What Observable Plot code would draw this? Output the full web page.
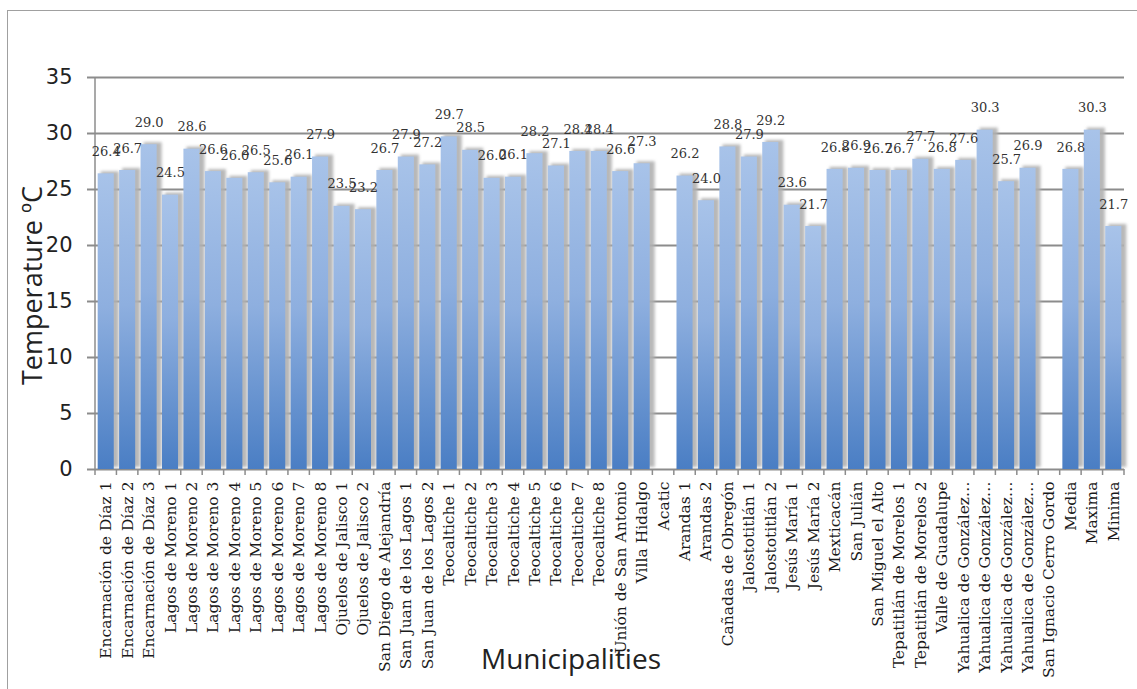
<!DOCTYPE html>
<html><head><meta charset="utf-8">
<script src="https://cdn.jsdelivr.net/npm/d3@7"></script>
<script src="https://cdn.jsdelivr.net/npm/@observablehq/plot@0.6"></script>
<style>
body{margin:0;background:#fff;overflow:hidden;}
#frame{position:absolute;left:7px;top:10px;width:1140px;height:690px;border-left:1px solid #a0a0a0;border-top:1px solid #a0a0a0;}
</style></head><body><div id="frame"></div>
<script>
const categories = [
  "Encarnación de Díaz 1","Encarnación de Díaz 2","Encarnación de Díaz 3",
  "Lagos de Moreno 1","Lagos de Moreno 2","Lagos de Moreno 3","Lagos de Moreno 4",
  "Lagos de Moreno 5","Lagos de Moreno 6","Lagos de Moreno 7","Lagos de Moreno 8",
  "Ojuelos de Jalisco 1","Ojuelos de Jalisco 2","San Diego de Alejandría",
  "San Juan de los Lagos 1","San Juan de los Lagos 2",
  "Teocaltiche 1","Teocaltiche 2","Teocaltiche 3","Teocaltiche 4",
  "Teocaltiche 5","Teocaltiche 6","Teocaltiche 7","Teocaltiche 8",
  "Unión de San Antonio","Villa Hidalgo","Acatic","Arandas 1","Arandas 2",
  "Cañadas de Obregón","Jalostotitlán 1","Jalostotitlán 2","Jesús María 1","Jesús María 2",
  "Mexticacán","San Julián","San Miguel el Alto","Tepatitlán de Morelos 1","Tepatitlán de Morelos 2",
  "Valle de Guadalupe","Yahualica de González…","Yahualica de González…","Yahualica de González…","Yahualica de González…",
  "San Ignacio Cerro Gordo","Media","Maxima","Minima"
];
const temperatures = [
  26.4, 26.7, 29.0,
  24.5, 28.6, 26.6, 26.0,
  26.5, 25.6, 26.1, 27.9,
  23.5, 23.2, 26.7,
  27.9, 27.2,
  29.7, 28.5, 26.0, 26.1,
  28.2, 27.1, 28.4, 28.4,
  26.6, 27.3, null, 26.2, 24.0,
  28.8, 27.9, 29.2, 23.6, 21.7,
  26.8, 26.9, 26.7, 26.7, 27.7,
  26.8, 27.6, 30.3, 25.7, 26.9,
  null, 26.8, 30.3, 21.7
];
const yTicks = [0, 5, 10, 15, 20, 25, 30, 35];
const yLabel = "Temperature ºC";
const xLabel = "Municipalities";

const data = categories.map((c, i) => ({i, c, t: temperatures[i]}));
const bars = data.filter(d => d.t != null);
const fmt = d3.format(".1f");

const W = 1129, H = 678;
const defs = () => {
  const g = d3.create("svg:g");
  const d = g.append("defs");
  const grad = d.append("linearGradient")
    .attr("id", "barGrad").attr("x1", 0).attr("y1", 0).attr("x2", 0).attr("y2", 1);
  grad.append("stop").attr("offset", "0%").attr("stop-color", "#a8c3e9");
  grad.append("stop").attr("offset", "45%").attr("stop-color", "#8eafdf");
  grad.append("stop").attr("offset", "100%").attr("stop-color", "#4a7ec4");
  const f = d.append("filter").attr("id", "shadowBlur")
    .attr("x", "-50%").attr("y", "-10%").attr("width", "200%").attr("height", "120%");
  f.append("feGaussianBlur").attr("stdDeviation", 1.8);
  return g.node();
};
const axisLines = (index, scales, values, dim) => {
  const g = d3.create("svg:g").attr("stroke", "#8c8c8c").attr("stroke-width", 1.5);
  const x = scales.x, step = x.step(), bw = x.bandwidth();
  const y0 = dim.height - dim.marginBottom;
  g.append("line").attr("x1", dim.marginLeft).attr("x2", dim.marginLeft)
    .attr("y1", dim.marginTop).attr("y2", y0);
  const first = x(0) - (step - bw) / 2;
  for (let k = 0; k <= categories.length; k++) {
    const bx = first + k * step;
    g.append("line").attr("x1", bx).attr("x2", bx).attr("y1", y0).attr("y2", y0 + 6);
  }
  return g.node();
};

const chart = Plot.plot({
  width: W, height: H,
  marginLeft: 87, marginRight: 13, marginTop: 66, marginBottom: 220,
  style: {fontFamily: "Open Sans", background: "transparent", overflow: "visible"},
  x: {domain: d3.range(categories.length), paddingInner: 0.25, paddingOuter: 0.125, round: false, axis: null},
  y: {domain: [0, 35], axis: null},
  marks: [
    defs,
    Plot.ruleY(yTicks, {stroke: "#8c8c8c", strokeWidth: 2, insetLeft: -8}),
    Plot.barY(bars, {x: "i", y: "t", fill: "#b0b0b0", dx: 3, dy: -2, insetRight: -2, fillOpacity: 0.9}),
    Plot.barY(bars, {x: "i", y: "t", fill: "url(#barGrad)"}),
    axisLines,
    Plot.axisY({ticks: yTicks, tickSize: 0, tickPadding: 23, fontSize: 21, fontFamily: "DejaVu Sans", fill: "#222", label: null}),
    Plot.axisX({tickSize: 0, tickPadding: 12, tickRotate: -90, fontSize: 15.5, fontFamily: "DejaVu Serif",
      fill: "#1a1a1a", tickFormat: i => categories[i], label: null}),
    Plot.text(bars, {x: "i", y: "t", text: d => fmt(d.t), dy: -22, fontSize: 13, fontFamily: "DejaVu Serif", fill: "#333"}),
    Plot.text([yLabel], {frameAnchor: "left", textAnchor: "middle", lineAnchor: "middle", rotate: -90, dx: -62, dy: 12, fontSize: 27, fontFamily: "Open Sans", fill: "#222"}),
    Plot.text([xLabel], {frameAnchor: "bottom", textAnchor: "middle", lineAnchor: "middle", dx: -39, dy: 191, fontSize: 28, fontFamily: "Open Sans", fill: "#222"})
  ]
});
d3.select(chart).selectAll('g[fill="#b0b0b0"]').attr("filter", "url(#shadowBlur)");
document.getElementById("frame").appendChild(chart);
</script>
</body></html>
